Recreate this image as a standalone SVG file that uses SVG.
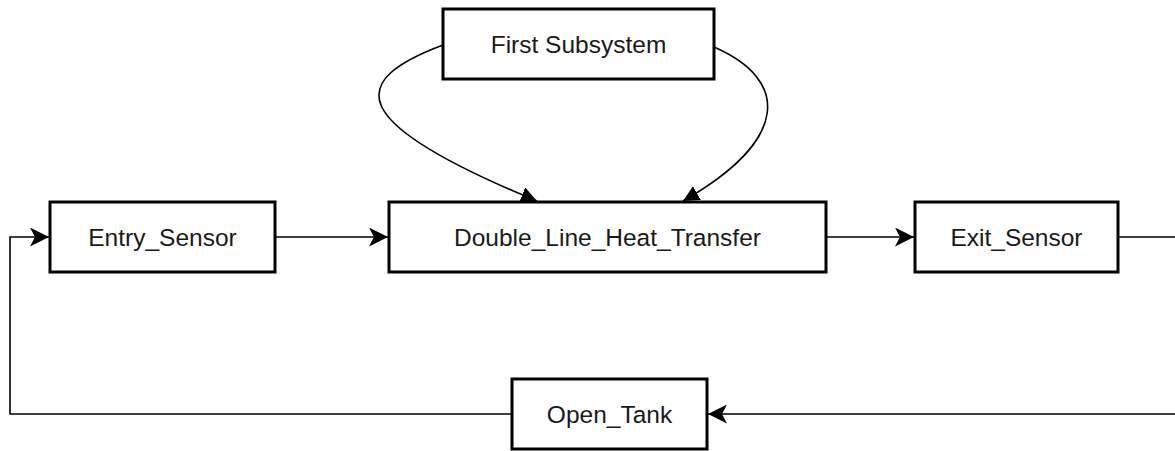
<svg xmlns="http://www.w3.org/2000/svg" width="1175" height="451" viewBox="0 0 1175 451">
  <style>
    .box { fill: #ffffff; stroke: #000000; stroke-width: 3; }
    .label { font-family: "Liberation Sans", Arial, Helvetica, sans-serif; font-size: 24.5px; fill: #1a1a1a; text-anchor: middle; }
    .edge { fill: none; stroke: #000000; stroke-width: 1.6; }
  </style>
  <defs>
    <marker id="classic" markerUnits="userSpaceOnUse" markerWidth="19" markerHeight="19" refX="19" refY="9.5" orient="auto">
      <path d="M0,0 L19,9.5 L0,19 L5,9.5 Z" fill="#000000"/>
    </marker>
    <marker id="block" markerUnits="userSpaceOnUse" markerWidth="16" markerHeight="16" refX="16" refY="8" orient="auto">
      <path d="M0,0 L16,8 L0,16 Z" fill="#000000"/>
    </marker>
  </defs>

  <rect width="1175" height="451" fill="#ffffff"/>

  <g id="connectors">
    <path class="edge" d="M443,45 C350,80 340,120 537,201" marker-end="url(#block)"/>
    <path class="edge" d="M714,47 C790,80 790,140 683,201" marker-end="url(#block)"/>
    <path class="edge" d="M275,237 H388" marker-end="url(#classic)"/>
    <path class="edge" d="M826,237 H914" marker-end="url(#classic)"/>
    <path class="edge" d="M1118,237 H1190 V414 H708" marker-end="url(#classic)"/>
    <path class="edge" d="M512,414 H10 V237 H49" marker-end="url(#classic)"/>
  </g>

  <g id="first-subsystem">
    <rect class="box" x="443" y="9" width="271" height="70"/>
    <text class="label" x="578.5" y="52.5">First Subsystem</text>
  </g>
  <g id="entry-sensor">
    <rect class="box" x="50" y="202" width="225" height="70"/>
    <text class="label" x="162.5" y="245.5">Entry_Sensor</text>
  </g>
  <g id="double-line-heat-transfer">
    <rect class="box" x="389" y="202" width="437" height="70"/>
    <text class="label" x="607.5" y="245.5">Double_Line_Heat_Transfer</text>
  </g>
  <g id="exit-sensor">
    <rect class="box" x="915" y="202" width="203" height="70"/>
    <text class="label" x="1016.5" y="245.5">Exit_Sensor</text>
  </g>
  <g id="open-tank">
    <rect class="box" x="512" y="379" width="195" height="70"/>
    <text class="label" x="609.5" y="422.5">Open_Tank</text>
  </g>
</svg>
